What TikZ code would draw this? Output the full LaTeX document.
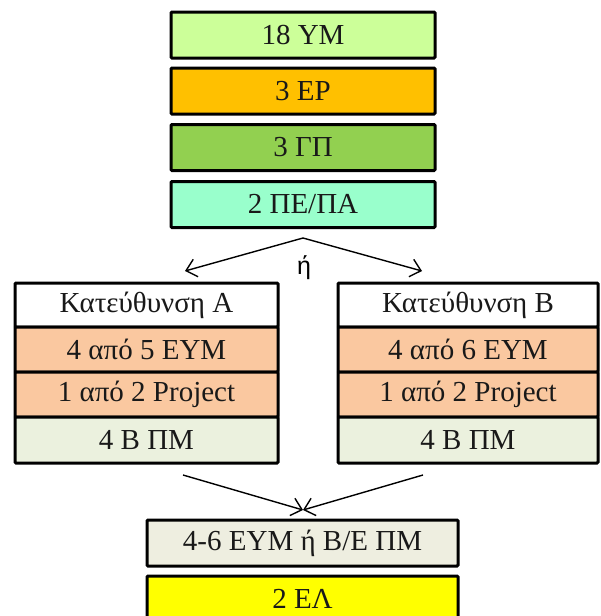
\documentclass[tikz,border=0pt]{standalone}
\usepackage{fontspec}
\setmainfont{Liberation Serif}
\newfontfamily\arialfont{Liberation Sans}
\usetikzlibrary{arrows.meta}
\definecolor{cYM}{HTML}{CCFF99}
\definecolor{cEP}{HTML}{FFC000}
\definecolor{cGP}{HTML}{92D050}
\definecolor{cPE}{HTML}{99FFCC}
\definecolor{cOr}{HTML}{FAC8A0}
\definecolor{cPM}{HTML}{EBF1DE}
\definecolor{cBE}{HTML}{EEEEE0}
\definecolor{cEL}{HTML}{FFFF00}
\tikzset{
  box/.style={draw=black, line width=3pt, rounded corners=1pt, inner sep=0pt,
    font=\fontsize{29}{29}\selectfont, text=black!90},
  topbox/.style={box, minimum width=264pt, minimum height=46pt},
  colbox/.style={box, minimum width=263pt, minimum height=45pt},
  botbox/.style={box, minimum width=311pt, minimum height=46pt},
  conn/.style={line width=1.4pt, -{Straight Barb[length=10pt,width=18pt,line width=1.4pt]}}
}
\begin{document}
\begin{tikzpicture}[x=1pt,y=-1pt]
\useasboundingbox (0,0) rectangle (600,616);
\clip (0,0) rectangle (600,616);
% top stack
\node[topbox, fill=cYM] (ym) at (303,35) {18 ΥΜ};
\node[topbox, fill=cEP] (ep) at (303,91) {3 ΕΡ};
\node[topbox, fill=cGP] (gp) at (303,147.5) {3 ΓΠ};
\node[topbox, fill=cPE] (pe) at (303,204.5) {2 ΠΕ/ΠΑ};
% split arrows
\coordinate (apex) at (303,238);
\coordinate (la) at (185,271);
\coordinate (ra) at (422,271);
\draw[conn] (apex) -- (la);
\draw[conn] (apex) -- (ra);
\node[font=\arialfont\fontsize{25}{25}\selectfont] (or1) at (304,268) {ή};
% left column
\node[colbox, fill=white, minimum height=44pt] (ka) at (146.5,305) {Κατεύθυνση Α};
\node[colbox, fill=cOr] (ea) at (146.5,349.5) {4 από 5 ΕΥΜ};
\node[colbox, fill=cOr] (pa) at (146.5,394.5) {1 από 2 Project};
\node[colbox, fill=cPM, minimum height=46pt] (ba) at (146.5,440) {4 Β ΠΜ};
% right column
\node[colbox, fill=white, minimum width=260pt, minimum height=44pt] (kb) at (468,305) {Κατεύθυνση Β};
\node[colbox, fill=cOr, minimum width=260pt] (eb) at (468,349.5) {4 από 6 ΕΥΜ};
\node[colbox, fill=cOr, minimum width=260pt] (pb) at (468,394.5) {1 από 2 Project};
\node[colbox, fill=cPM, minimum width=260pt, minimum height=46pt] (bb) at (468,440) {4 Β ΠΜ};
% merge arrows
\coordinate (ls) at (183,475);
\coordinate (rs) at (423,475);
\coordinate (join) at (303,510);
\draw[conn] (ls) -- (join);
\draw[conn] (rs) -- (join);
% bottom stack
\node[botbox, fill=cBE] (be) at (302.5,543) {4-6 ΕΥΜ ή Β/Ε ΠΜ};
\node[botbox, fill=cEL] (el) at (302.5,599) {2 ΕΛ};
\end{tikzpicture}
\end{document}
